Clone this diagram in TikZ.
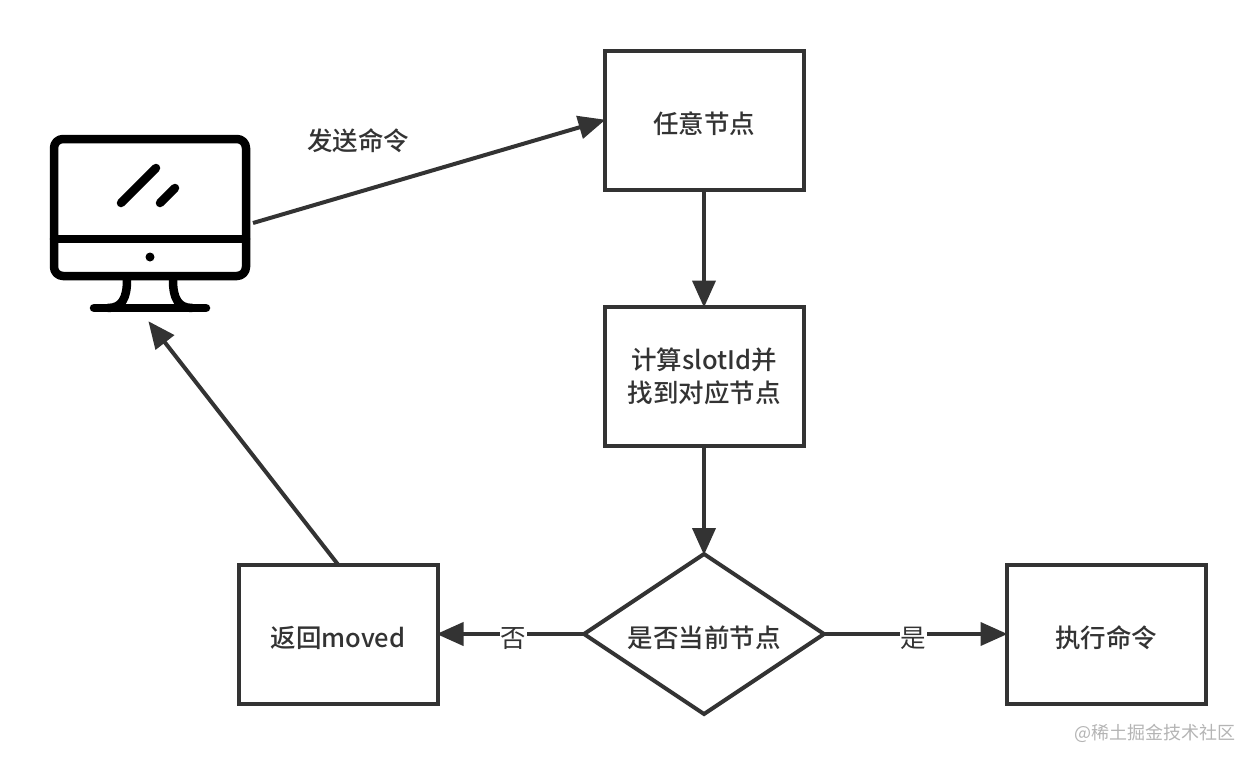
\documentclass[tikz,border=0pt]{standalone}
\usepackage{fontspec}
\setmainfont{Noto Sans CJK SC Medium}
\newfontfamily\markfont{Noto Sans CJK SC}
\usetikzlibrary{positioning,shapes.geometric,arrows.meta}
\definecolor{LineGray}{HTML}{333333}
\definecolor{MarkGray}{HTML}{B4B4B4}
\tikzset{
  lowtext/.style={execute at begin node={\rule{0pt}{29pt}}},
  stepbox/.style={rectangle, draw=LineGray, line width=4pt, outer sep=0pt, minimum width=199pt, minimum height=139pt, align=center, text=LineGray, font=\fontsize{25.5}{33}\selectfont, lowtext},
  choice/.style={diamond, draw=LineGray, line width=4pt, outer sep=0pt, aspect=1.5, minimum width=240pt, minimum height=160pt, inner sep=0pt, align=center, text=LineGray, font=\fontsize{25.5}{33}\selectfont, lowtext},
  link/.style={-{Triangle[length=27pt,width=23pt]}, draw=LineGray, line width=4pt, shorten >=-1pt},
  tag/.style={fill=white, inner sep=1pt, text=LineGray, font=\markfont\fontsize{25.5}{30}\selectfont, lowtext},
  screen/.style={draw=black, line width=8.5pt, line cap=round, line join=round}
}
\begin{document}
\begin{tikzpicture}[x=1pt,y=-1pt]
  \useasboundingbox (0,0) rectangle (1256,764);
  % monitor
  \draw[screen, rounded corners=9pt] (54,139) rectangle (246,276);
  \draw[screen] (54,239) -- (246,239);
  \draw[screen] (121,203) -- (156,168);
  \draw[screen] (160,203) -- (175,188);
  \fill[black] (150,257) circle (4.5pt);
  \draw[screen] (127,280) .. controls (127,298) and (122,308) .. (108,308);
  \draw[screen] (173,280) .. controls (173,298) and (178,308) .. (192,308);
  \draw[screen] (94,308) -- (206,308);
  \coordinate (pcout) at (253,223);
  \coordinate (pcin) at (149,322);

  \node[stepbox] (n00) at (704,120) {任意节点};
  \node[stepbox] (n01) at (704,376) {计算slotId并\\找到对应节点};
  \node[choice] (n02) at (704,634) {是否当前节点};
  \node[stepbox] (n03) at (338,634) {返回moved};
  \node[stepbox] (n04) at (1106,634) {执行命令};

  \draw[link] (pcout) -- (n00.west);
  \node[text=LineGray, font=\fontsize{25.5}{30}\selectfont] (send) at (358,141) {发送命令};
  \draw[link] (n00) -- (n01);
  \draw[link] (n01) -- (n02);
  \draw[link] (n02) -- node[tag, pos=.48] (no) {否} (n03);
  \draw[link] (n02) -- node[tag, pos=.49] (yes) {是} (n04);
  \draw[link] (n03.north) -- (pcin);

  \node[text=MarkGray, font=\markfont\fontsize{18}{22}\selectfont] (mark) at (1155,733) {@稀土掘金技术社区};
\end{tikzpicture}
\end{document}
